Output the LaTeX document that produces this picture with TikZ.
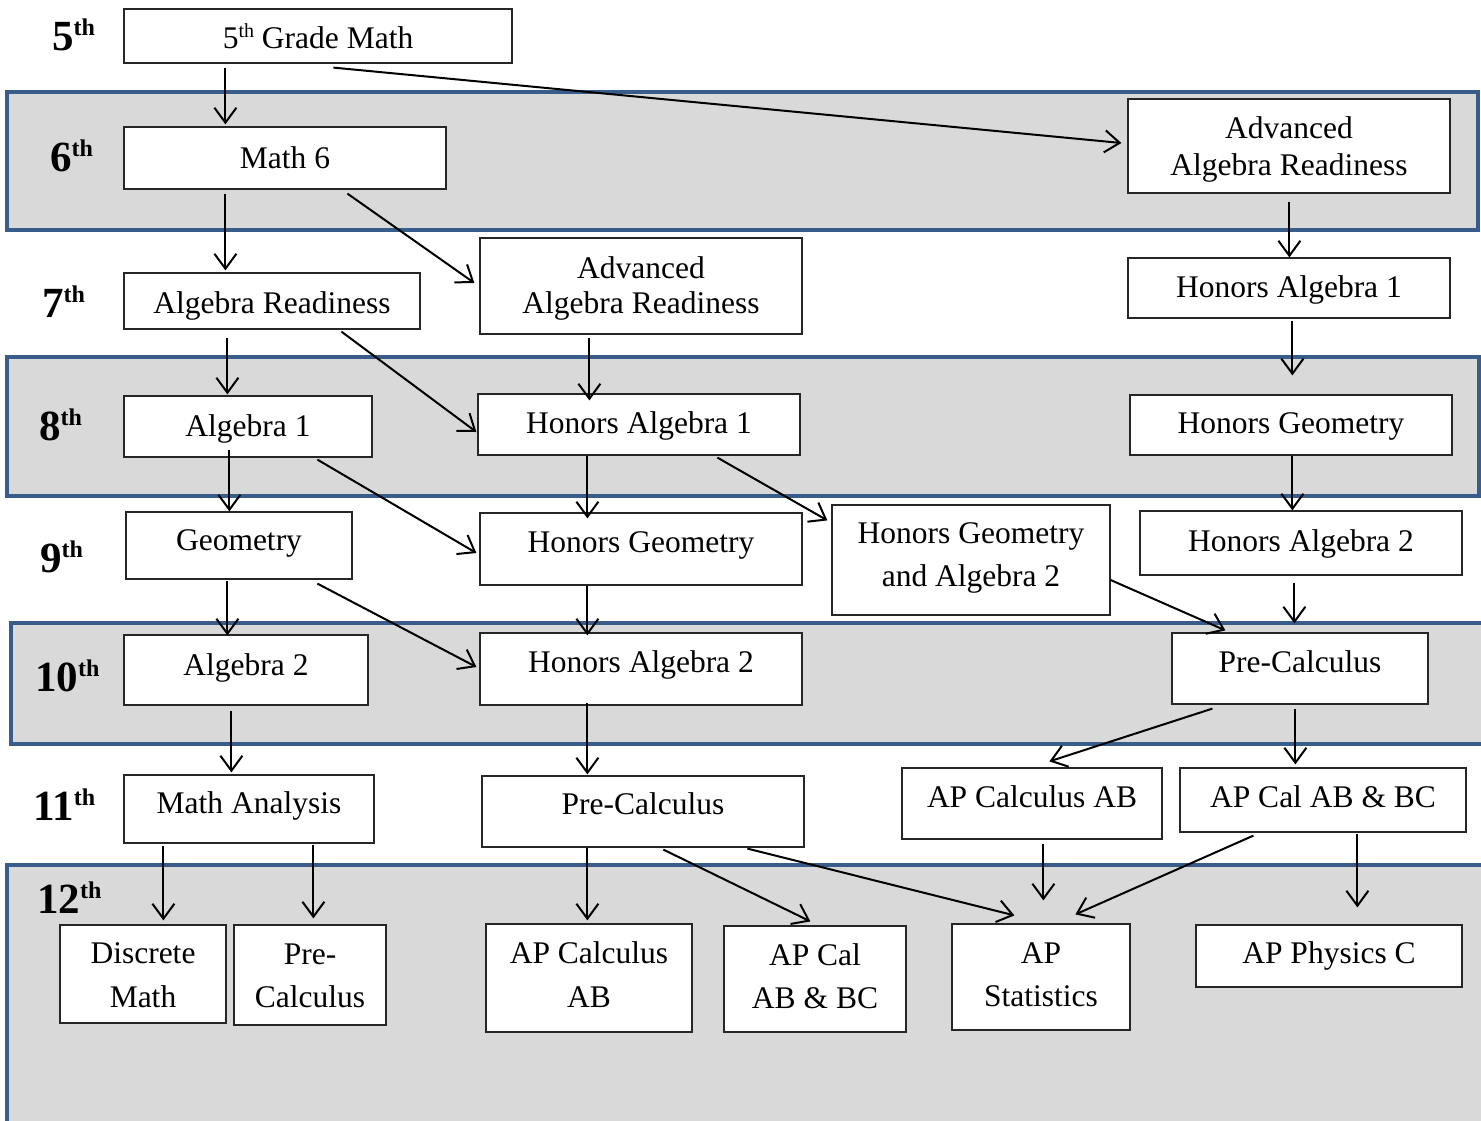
\documentclass[tikz,border=0pt]{standalone}
\usepackage{fontspec}
\setmainfont{Liberation Serif}
\usetikzlibrary{arrows.meta,calc}
\definecolor{bandblue}{HTML}{385D8A}
\definecolor{bandgray}{HTML}{D9D9D9}
\newcommand{\gsup}{\raisebox{15pt}{\fontsize{24}{24}\selectfont th}}
\newcommand{\bsup}{\raisebox{11pt}{\fontsize{20}{20}\selectfont th}}
\tikzset{
  box/.style={rectangle, draw=black!85, line width=1.2pt, fill=white, inner sep=0pt},
  txt/.style={anchor=base, inner sep=0pt, font=\fontsize{31.5}{36}\selectfont},
  grade/.style={anchor=base west, inner sep=0pt, font=\fontsize{43}{46}\selectfont\bfseries},
  band/.style={fill=bandgray, draw=bandblue, line width=4.5pt},
  arr/.style={line width=2pt, -{Straight Barb[length=15pt,width=22pt]}}
}
\begin{document}
\begin{tikzpicture}[x=1pt,y=-1pt]
\useasboundingbox (0,0) rectangle (1481,1120);
\fill[white] (0,0) rectangle (1481,1120);
\clip (0,0) rectangle (1481,1120);
% grade bands
\draw[band] (7,92) rectangle (1478,230);
\draw[band] (7,357) rectangle (1479,496);
\draw[band] (11,623) rectangle (1500,744);
\draw[band] (7,865) rectangle (1500,1140);
% grade labels
\node[grade] (l5) at (52,50) {5\gsup};
\node[grade] (l6) at (50,171) {6\gsup};
\node[grade] (l7) at (42,317) {7\gsup};
\node[grade] (l8) at (39,440) {8\gsup};
\node[grade] (l9) at (40,572) {9\gsup};
\node[grade] (l10) at (35,691) {10\gsup};
\node[grade] (l11) at (33,820) {11\gsup};
\node[grade] (l12) at (37,913) {12\gsup};
% boxes
\node[box, minimum width=388, minimum height=54] (g5) at (318,36) {};
\node[box, minimum width=322, minimum height=62] (m6) at (285,158) {};
\node[box, minimum width=322, minimum height=94] (aar6) at (1289,146) {};
\node[box, minimum width=296, minimum height=56] (ar7) at (272,301) {};
\node[box, minimum width=322, minimum height=96] (aar7) at (641,286) {};
\node[box, minimum width=322, minimum height=60] (ha1r) at (1289,288) {};
\node[box, minimum width=248, minimum height=61] (a1) at (248,426.5) {};
\node[box, minimum width=322, minimum height=61] (ha1m) at (639,424.5) {};
\node[box, minimum width=322, minimum height=60] (hgr) at (1291,425) {};
\node[box, minimum width=226, minimum height=67] (geo) at (239,545.5) {};
\node[box, minimum width=322, minimum height=72] (hgm) at (641,549) {};
\node[box, minimum width=278, minimum height=110] (hga2) at (971,560) {};
\node[box, minimum width=322, minimum height=64] (ha2r) at (1301,543) {};
\node[box, minimum width=244, minimum height=70] (a2) at (246,670) {};
\node[box, minimum width=322, minimum height=72] (ha2m) at (641,669) {};
\node[box, minimum width=256, minimum height=71] (pcr) at (1300,668.5) {};
\node[box, minimum width=250, minimum height=68] (ma) at (249,809) {};
\node[box, minimum width=322, minimum height=71] (pcm) at (643,811.5) {};
\node[box, minimum width=260, minimum height=71] (apab11) at (1032,803.5) {};
\node[box, minimum width=286, minimum height=64] (apbc11) at (1323,800) {};
\node[box, minimum width=166, minimum height=98] (dm) at (143,974) {};
\node[box, minimum width=152, minimum height=100] (pc12) at (310,975) {};
\node[box, minimum width=206, minimum height=108] (apab12) at (589,978) {};
\node[box, minimum width=182, minimum height=106] (apbc12) at (815,979) {};
\node[box, minimum width=178, minimum height=106] (aps) at (1041,977) {};
\node[box, minimum width=266, minimum height=62] (apc) at (1329,956) {};
% box texts
\node[txt] (g5t) at (318,48) {5\bsup{} Grade Math};
\node[txt] (m6t) at (285,168) {Math 6};
\node[txt] (aar6a) at (1289,138) {Advanced};
\node[txt] (aar6b) at (1289,175) {Algebra Readiness};
\node[txt] (ar7t) at (272,313) {Algebra Readiness};
\node[txt] (aar7a) at (641,278) {Advanced};
\node[txt] (aar7b) at (641,313) {Algebra Readiness};
\node[txt] (ha1rt) at (1289,297) {Honors Algebra 1};
\node[txt] (a1t) at (248,436) {Algebra 1};
\node[txt] (ha1mt) at (639,433) {Honors Algebra 1};
\node[txt] (hgrt) at (1291,433) {Honors Geometry};
\node[txt] (geot) at (239,550) {Geometry};
\node[txt] (hgmt) at (641,552) {Honors Geometry};
\node[txt] (hga2a) at (971,543) {Honors Geometry};
\node[txt] (hga2b) at (971,586) {and Algebra 2};
\node[txt] (ha2rt) at (1301,551) {Honors Algebra 2};
\node[txt] (a2t) at (246,675) {Algebra 2};
\node[txt] (ha2mt) at (641,672) {Honors Algebra 2};
\node[txt] (pcrt) at (1300,672) {Pre-Calculus};
\node[txt] (mat) at (249,813) {Math Analysis};
\node[txt] (pcmt) at (643,814) {Pre-Calculus};
\node[txt] (apab11t) at (1032,807) {AP Calculus AB};
\node[txt] (apbc11t) at (1323,807) {AP Cal AB \& BC};
\node[txt] (dma) at (143,963) {Discrete};
\node[txt] (dmb) at (143,1007) {Math};
\node[txt] (pc12a) at (310,964) {Pre-};
\node[txt] (pc12b) at (310,1007) {Calculus};
\node[txt] (apab12a) at (589,963) {AP Calculus};
\node[txt] (apab12b) at (589,1007) {AB};
\node[txt] (apbc12a) at (815,965) {AP Cal};
\node[txt] (apbc12b) at (815,1008) {AB \& BC};
\node[txt] (apsa) at (1041,963) {AP};
\node[txt] (apsb) at (1041,1006) {Statistics};
\node[txt] (apct) at (1329,963) {AP Physics C};
% connectors
\draw[arr] ($(g5.south west)+(102,4)$) -- ($(m6.north west)+(102,-2)$);
\draw[arr] ($(g5.south west)+(210,4)$) -- ($(aar6.west)+(-6,-3)$);
\draw[arr] ($(m6.south west)+(102,4)$) -- ($(ar7.north west)+(102,-2)$);
\draw[arr] ($(m6.south west)+(224,4)$) -- ($(aar7.west)+(-5,-3)$);
\draw[arr] ($(aar6.south west)+(162,8)$) -- ($(ha1r.north west)+(162,0)$);
\draw[arr] ($(ar7.south west)+(104,8)$) -- ($(a1.north west)+(104,-1)$);
\draw[arr] ($(ar7.south west)+(218,2)$) -- ($(ha1m.west)+(-1,7.5)$);
\draw[arr] ($(aar7.south west)+(110,3)$) -- ($(ha1m.north west)+(112,7)$);
\draw[arr] ($(ha1r.south west)+(165,2)$) -- ($(hgr.north west)+(163,-19)$);
\draw[arr] ($(a1.south west)+(106,-8)$) -- ($(geo.north west)+(104,0)$);
\draw[arr] ($(a1.south west)+(194,2)$) -- ($(hgm.west)+(-3,4)$);
\draw[arr] ($(ha1m.south west)+(110,0)$) -- ($(hgm.north west)+(108,6)$);
\draw[arr] ($(ha1m.south west)+(240,2)$) -- ($(hga2.north west)+(-4,16)$);
\draw[arr] ($(hgr.south west)+(163,0)$) -- ($(ha2r.north west)+(153,0)$);
\draw[arr] ($(geo.south west)+(102,1)$) -- ($(a2.north west)+(104,1)$);
\draw[arr] ($(geo.south west)+(192,4)$) -- ($(ha2m.west)+(-3,-2)$);
\draw[arr] ($(hgm.south west)+(108,0)$) -- ($(ha2m.north west)+(108,3)$);
\draw[arr] ($(hga2.east)+(0,20)$) -- ($(pcr.north west)+(54,-2)$);
\draw[arr] ($(ha2r.south west)+(155,7)$) -- ($(pcr.north west)+(123,-9)$);
\draw[arr] ($(a2.south west)+(108,5)$) -- ($(ma.north west)+(108,-2)$);
\draw[arr] ($(ha2m.south west)+(108,-3)$) -- ($(pcm.north west)+(106,-1)$);
\draw[arr] ($(pcr.south west)+(41,4)$) -- ($(apab11.north west)+(148,-6)$);
\draw[arr] ($(pcr.south west)+(124,4)$) -- ($(apbc11.north west)+(116,-3)$);
\draw[arr] ($(ma.south west)+(40,2)$) -- ($(dm.north west)+(104,-4)$);
\draw[arr] ($(ma.south west)+(190,1)$) -- ($(pc12.north west)+(80,-6)$);
\draw[arr] ($(pcm.south west)+(106,0)$) -- ($(apab12.north west)+(102,-3)$);
\draw[arr] ($(pcm.south west)+(182,2)$) -- ($(apbc12.north west)+(87,-4)$);
\draw[arr] ($(pcm.south west)+(266,1)$) -- ($(aps.north west)+(63,-8)$);
\draw[arr] ($(apab11.south west)+(142,4)$) -- ($(aps.north west)+(92,-23)$);
\draw[arr] ($(apbc11.south west)+(74,3)$) -- ($(aps.north west)+(124,-9)$);
\draw[arr] ($(apbc11.south west)+(178,1)$) -- ($(apc.north west)+(162,-17)$);
\end{tikzpicture}
\end{document}
